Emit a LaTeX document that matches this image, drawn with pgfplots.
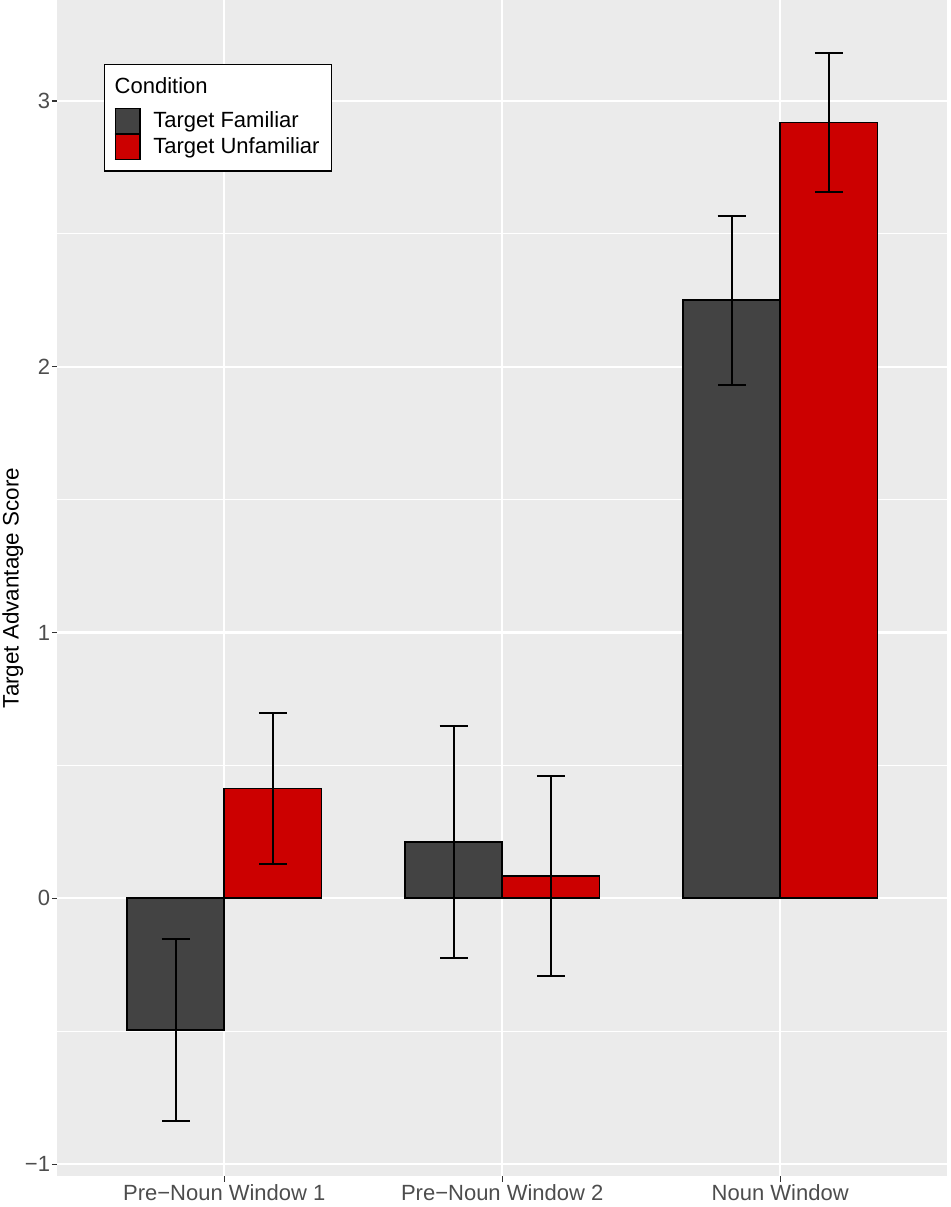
\documentclass[border=0pt]{standalone}
\usepackage{pgfplots}
\pgfplotsset{compat=1.18}
\usepackage{pgfplotstable}
\usepackage{fontspec}
\setmainfont{Liberation Sans}
\definecolor{bggrey}{HTML}{EBEBEB}
\definecolor{famgrey}{HTML}{434343}
\definecolor{unfred}{HTML}{CC0000}
\definecolor{ticklab}{HTML}{4D4D4D}
\definecolor{tickcol}{HTML}{333333}

% bar heights
\pgfplotstableread{
x y
1 -0.496
2 0.212
3 2.251
}\famdata
\pgfplotstableread{
x y
1 0.413
2 0.083
3 2.919
}\unfdata
% error bars (dodged positions)
\pgfplotstableread{
x y e
0.825 -0.496 0.343
1.825 0.212 0.435
2.825 2.251 0.318
}\famerr
\pgfplotstableread{
x y e
1.175 0.413 0.283
2.175 0.083 0.376
3.175 2.919 0.261
}\unferr

\newcommand{\legkey}[1]{\raisebox{-2.56pt}{\setlength\fboxrule{0.6pt}\setlength\fboxsep{0pt}\fcolorbox{black}{#1}{\rule{11.8pt}{0pt}\rule{0pt}{11.8pt}}}}

\begin{document}
\begin{tikzpicture}
\useasboundingbox (-28.75pt,-15.5pt) rectangle (446.25pt,588pt);
\begin{axis}[
  at={(0pt,0pt)}, anchor=south west,
  scale only axis, width=444.75pt, height=588pt,
  xmin=0.4, xmax=3.6, ymin=-1.045, ymax=3.38,
  axis background/.style={fill=bggrey},
  axis line style={draw=none},
  xtick={1,2,3},
  xticklabels={Pre−Noun Window 1, Pre−Noun Window 2, Noun Window},
  ytick={-1,0,1,2,3},
  yticklabels={−1,0,1,2,3},
  minor ytick={-0.5,0.5,1.5,2.5},
  xmajorgrids, ymajorgrids, yminorgrids,
  major grid style={white, line width=1.07pt},
  minor grid style={white, line width=0.53pt},
  tick pos=left, tick align=outside,
  major tick length=2.75pt, minor tick length=0pt,
  tick style={tickcol, line width=0.53pt},
  ticklabel style={font=\fontsize{11}{13}\selectfont, text=ticklab, inner sep=0pt},
  xticklabel style={yshift=-1.3pt},
  yticklabel style={xshift=-0.8pt},
  ylabel={Target Advantage Score},
  every axis y label/.style={at={([xshift=-19.4pt]axis description cs:0,0.5)}, rotate=90, anchor=base, font=\fontsize{11.2}{13}\selectfont, text=black, inner sep=0pt},
]
\addplot[ybar, bar width=0.35, bar shift=-0.175, fill=famgrey, draw=black, line width=0.8pt]
  table[x=x, y=y]{\famdata};
\addplot[ybar, bar width=0.35, bar shift=0.175, fill=unfred, draw=black, line width=0.8pt]
  table[x=x, y=y]{\unfdata};
\addplot[draw=none, mark=none, error bars/.cd, y dir=both, y explicit, error mark=|,
  error bar style={black, line width=1pt}, error mark options={black, line width=1pt, mark size=7pt}]
  table[x=x, y=y, y error=e]{\famerr};
\addplot[draw=none, mark=none, error bars/.cd, y dir=both, y explicit, error mark=|,
  error bar style={black, line width=1pt}, error mark options={black, line width=1pt, mark size=7pt}]
  table[x=x, y=y, y error=e]{\unferr};
\node[draw=black, line width=0.7pt, fill=white, anchor=north west, inner xsep=5pt, inner ysep=5.5pt,
  font=\fontsize{11}{13}\selectfont, text=black] at (axis description cs:0.05228,0.94558)
  {\vbox{\offinterlineskip
    \hbox{\vrule height 8.85pt depth 0pt width 0pt Condition}
    \vskip 7.15pt
    \hbox{\legkey{famgrey}\hspace{6.3pt}Target Familiar}
    \hbox to 103.5pt{\legkey{unfred}\hspace{6.3pt}Target Unfamiliar\hfil}}};
\end{axis}
\end{tikzpicture}
\end{document}
